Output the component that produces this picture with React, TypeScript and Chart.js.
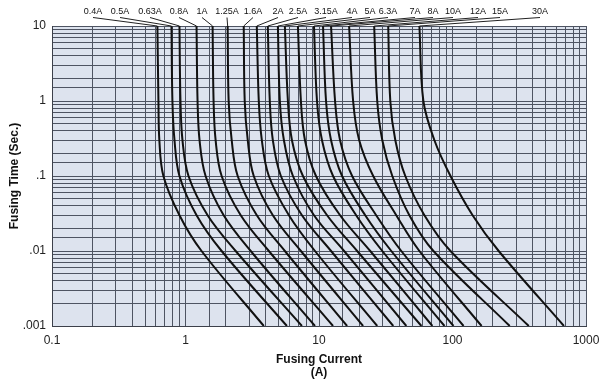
import React, { useEffect, useRef } from 'react';
import { Chart, registerables } from 'chart.js';
Chart.register(...registerables);

// Fuse ratings (curve labels)
const ratings = ['0.4A', '0.5A', '0.63A', '0.8A', '1A', '1.25A', '1.6A', '2A', '2.5A', '3.15A', '4A', '5A', '6.3A', '7A', '8A', '10A', '12A', '15A', '30A'];

// Fusing times (s) at which each curve's current was read
const fuseTimes = [10, 1, 0.3, 0.1, 0.03, 0.01, 0.001];

// Fusing currents (A) read for each rating at the times above
const amps0_4 = [0.616, 0.627, 0.637, 0.683, 0.901, 1.319, 3.86];
const amps0_5 = [0.785, 0.798, 0.827, 0.901, 1.21, 1.865, 5.75];
const amps0_63 = [0.901, 0.917, 0.949, 1.053, 1.464, 2.376, 7.45];
const amps0_8 = [1.21, 1.231, 1.274, 1.414, 1.931, 3.08, 9.33];
const amps1 = [1.596, 1.623, 1.681, 1.865, 2.592, 4.21, 12.74];
const amps1_25 = [2.069, 2.105, 2.218, 2.46, 3.42, 5.55, 16.24];
const amps1_6 = [2.73, 2.777, 2.926, 3.245, 4.51, 7.32, 21.4];
const amps2 = [3.42, 3.54, 3.73, 4.21, 5.95, 9.33, 27.3];
const amps2_5 = [4.135, 4.28, 4.51, 5.18, 7.45, 12.31, 36.0];
const amps3_15 = [4.92, 5.09, 5.46, 6.38, 9.17, 15.42, 45.1];
const amps4 = [5.55, 5.85, 6.27, 7.58, 11.49, 19.31, 58.5];
const amps5 = [6.95, 7.32, 7.85, 9.49, 14.38, 24.2, 70.7];
const amps6_3 = [9.17, 9.66, 10.53, 12.74, 18.97, 29.8, 87.1];
const amps7 = [10.72, 11.29, 12.31, 14.89, 22.18, 34.8, 101.7];
const amps8 = [12.31, 13.19, 14.38, 17.71, 26.8, 41.35, 121];
const amps10 = [16.81, 18.01, 20.0, 25.47, 37.9, 56.5, 165.2];
const amps12 = [25.9, 27.3, 29.8, 35.4, 47.5, 72.0, 268.3];
const amps15 = [33.0, 34.2, 37.3, 44.3, 61.6, 96.6, 372.8];
const amps30 = [56.5, 60.5, 73.2, 96.6, 141.4, 221.8, 683.5];

const curves = [amps0_4, amps0_5, amps0_63, amps0_8, amps1, amps1_25, amps1_6, amps2, amps2_5, amps3_15, amps4, amps5, amps6_3, amps7, amps8, amps10, amps12, amps15, amps30];

// Axis tick labels (decades)
const xTickLabels = ['0.1', '1', '10', '100', '1000'];
const yTickLabels = ['.001', '.01', '.1', '1', '10'];

// layout: horizontal pixel centres of the rating labels above the plot
const labelCenters = [93, 120, 150, 179, 202, 227, 253, 278, 298, 326, 352, 370, 388, 415, 433, 453, 478, 500, 540];

const FONT = '"Liberation Sans", Arial, Helvetica, sans-serif';

const decadeIndex = (v: number, minExp: number) => {
  const e = Math.log10(v);
  const r = Math.round(e);
  if (Math.abs(e - r) < 1e-6) return r - minExp;
  return -1;
};

const bgPlugin = {
  id: 'plotBg',
  beforeDraw(chart: any) {
    const { ctx, chartArea: a } = chart;
    ctx.save();
    ctx.fillStyle = '#ffffff';
    ctx.fillRect(0, 0, chart.width, chart.height);
    ctx.fillStyle = '#dde3ee';
    ctx.fillRect(a.left, a.top, a.right - a.left, a.bottom - a.top);
    ctx.restore();
  },
};

const ratingLabelPlugin = {
  id: 'ratingLabels',
  afterDatasetsDraw(chart: any) {
    const { ctx, chartArea: a } = chart;
    ctx.save();
    ctx.font = `9px ${FONT}`;
    ctx.fillStyle = '#111';
    ctx.strokeStyle = '#222';
    ctx.lineWidth = 1;
    ctx.textAlign = 'center';
    ctx.textBaseline = 'middle';
    ratings.forEach((r, i) => {
      const meta = chart.getDatasetMeta(i);
      const p = meta.data[0];
      const lx = labelCenters[i];
      ctx.fillText(r, lx, 12);
      ctx.beginPath();
      ctx.moveTo(lx, 17.5);
      ctx.lineTo(p.x, a.top);
      ctx.stroke();
    });
    ctx.restore();
  },
};

export default function App() {
  const ref = useRef<HTMLCanvasElement>(null);
  useEffect(() => {
    document.body.style.margin = '0';
    const datasets = curves.map((amps, i) => ({
      label: ratings[i],
      data: amps.map((a, j) => ({ x: a, y: fuseTimes[j] })),
      borderColor: '#111111',
      borderWidth: 2,
      pointRadius: 0,
      tension: 0.35,
      fill: false,
    }));
    const gridOpts = { color: '#4e5462', lineWidth: 1, drawTicks: false };
    const chart = new Chart(ref.current as HTMLCanvasElement, {
      type: 'line',
      data: { datasets },
      options: {
        animation: false,
        responsive: false,
        layout: { padding: { top: 26, right: 0, left: 0, bottom: 0 } },
        plugins: { legend: { display: false }, tooltip: { enabled: false } },
        scales: {
          x: {
            type: 'logarithmic',
            min: 0.1,
            max: 1000,
            afterFit: (s: any) => { s.height = 59; s.paddingRight = 14; },
            grid: gridOpts,
            border: { display: true, color: '#3c404a', width: 1 },
            ticks: {
              autoSkip: false,
              maxRotation: 0,
              padding: 7,
              color: '#222',
              font: { family: FONT, size: 12 },
              callback: (v: any) => { const k = decadeIndex(Number(v), -1); return k >= 0 ? xTickLabels[k] : ''; },
            },
            title: {
              display: true,
              text: ['Fusing Current', '(A)'],
              color: '#111',
              font: { family: FONT, size: 12, weight: 'bold', lineHeight: 1.15 },
              padding: { top: 0, bottom: 5 },
            },
          },
          y: {
            type: 'logarithmic',
            min: 0.001,
            max: 10,
            afterFit: (s: any) => { s.width = 52; },
            grid: gridOpts,
            border: { display: true, color: '#3c404a', width: 1 },
            ticks: {
              autoSkip: false,
              padding: 6,
              color: '#222',
              font: { family: FONT, size: 12 },
              callback: (v: any) => { const k = decadeIndex(Number(v), -3); return k >= 0 ? yTickLabels[k] : ''; },
            },
            title: {
              display: true,
              text: 'Fusing Time (Sec.)',
              color: '#111',
              font: { family: FONT, size: 12, weight: 'bold' },
              padding: { top: 7, bottom: 0 },
            },
          },
        },
      } as any,
      plugins: [bgPlugin, ratingLabelPlugin],
    });
    return () => chart.destroy();
  }, []);
  return <canvas ref={ref} width={600} height={385} style={{ display: 'block' }} />;
}
